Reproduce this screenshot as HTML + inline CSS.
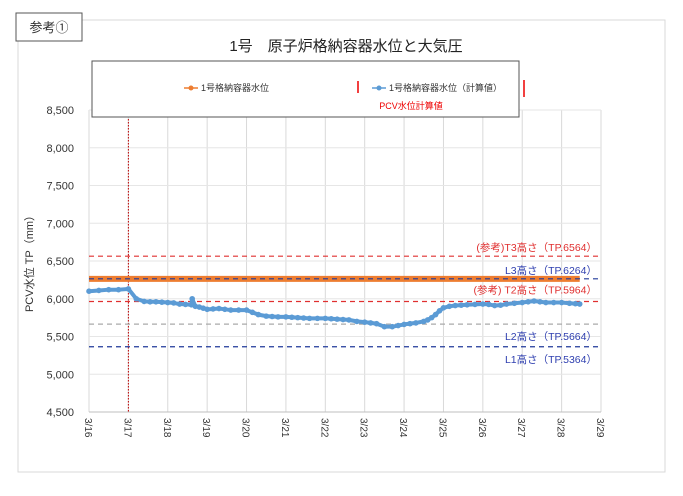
<!DOCTYPE html>
<html><head><meta charset="utf-8">
<style>
body{margin:0;background:#fff;font-family:"Liberation Sans","Noto Sans CJK JP",sans-serif;}
svg text{font-family:"Liberation Sans","Noto Sans CJK JP",sans-serif;}
</style></head>
<body>
<svg id="chart" width="683" height="491" viewBox="0 0 683 491" xmlns="http://www.w3.org/2000/svg">
<rect x="18" y="20" width="647" height="452" fill="#fff" stroke="#d9d9d9"/>
<rect x="16" y="13" width="66" height="28" fill="#fff" stroke="#555"/>
<text x="49" y="32" font-size="13" text-anchor="middle" fill="#333">参考①</text>
<text x="346" y="51" font-size="15" text-anchor="middle" fill="#222">1号　原子炉格納容器水位と大気圧</text>
<g id="grid"></g>
<g id="refs"></g>
<g id="series"></g>
<g id="axes"></g>
<rect x="92" y="61" width="427" height="56" fill="#fff" stroke="#555"/>
<g>
<line x1="184" y1="88" x2="198" y2="88" stroke="#ed7d31" stroke-width="1.5"/><circle cx="191" cy="88" r="2.5" fill="#ed7d31"/>
<text x="201" y="91" font-size="9" fill="#333">1号格納容器水位</text></g>
<line x1="358" y1="81" x2="358" y2="93" stroke="#e00" stroke-width="1.5"/>
<g>
<line x1="372" y1="88" x2="386" y2="88" stroke="#5b9bd5" stroke-width="1.5"/><circle cx="379" cy="88" r="2.5" fill="#5b9bd5"/>
<text x="389" y="91" font-size="9" fill="#333">1号格納容器水位（計算値）</text></g>
<line x1="524" y1="80" x2="524" y2="97" stroke="#e00" stroke-width="1.5"/>
<text x="411" y="109" font-size="9" fill="#e00" text-anchor="middle">PCV水位計算値</text>
<text transform="translate(33,261) rotate(-90)" font-size="11" text-anchor="middle" fill="#333">PCV水位 TP（mm）</text>
</svg>
<script>
const dayLabels=["3/16","3/17","3/18","3/19","3/20","3/21","3/22","3/23","3/24","3/25","3/26","3/27","3/28","3/29"];
const yTicks=[4500,5000,5500,6000,6500,7000,7500,8000,8500];
const calcDays=[0,0.25,0.5,0.75,1,1.2,1.4,1.55,1.7,1.85,2,2.15,2.3,2.45,2.6,2.62,2.7,2.8,2.9,3,3.15,3.3,3.45,3.6,3.8,4,4.15,4.3,4.5,4.65,4.8,5,5.15,5.3,5.45,5.6,5.8,6,6.15,6.3,6.45,6.6,6.8,7,7.15,7.3,7.5,7.7,7.85,8,8.15,8.3,8.5,8.6,8.7,8.8,8.9,9,9.15,9.3,9.45,9.6,9.8,10,10.15,10.3,10.45,10.6,10.8,11,11.15,11.3,11.45,11.6,11.8,12,12.2,12.35,12.46];
const calcVals=[6100,6110,6120,6120,6130,6000,5965,5960,5960,5955,5950,5945,5930,5925,5920,6000,5900,5890,5875,5860,5865,5870,5860,5850,5850,5850,5820,5790,5770,5765,5760,5760,5755,5750,5745,5740,5740,5740,5735,5730,5725,5720,5700,5690,5680,5670,5630,5630,5645,5660,5670,5680,5700,5720,5750,5790,5840,5880,5900,5910,5915,5920,5925,5930,5925,5910,5915,5930,5940,5950,5960,5970,5960,5950,5950,5950,5940,5935,5930];
const measDays=[0,12.46];
const measVals=[6264,6264];
const refVals=[6564,6264,5964,5664,5364];
const refNames=["(参考)T3高さ（TP.6564）","L3高さ（TP.6264）","(参考) T2高さ（TP.5964）","L2高さ（TP.5664）","L1高さ（TP.5364）"];
const refColors=["#e03030","#203a9a","#e03030","#aaaaaa","#203a9a"];
const labelColors=["#e03030","#3040b0","#e03030","#3040b0","#3040b0"];
const x0=89,x1=601,y0=412,y1=110;
const X=d=>x0+d*(x1-x0)/13;
const Y=v=>y0-(v-4500)*(y0-y1)/4000;
const NS="http://www.w3.org/2000/svg";
function mk(tag,attrs,parent){const e=document.createElementNS(NS,tag);for(const k in attrs)e.setAttribute(k,attrs[k]);parent.appendChild(e);return e;}
const grid=document.getElementById('grid'),axes=document.getElementById('axes'),refs=document.getElementById('refs'),series=document.getElementById('series');
dayLabels.forEach((l,i)=>{
 const g=mk('line',{x1:X(i),x2:X(i),y1:y1,y2:y0,stroke:'#d9d9d9','stroke-width':1},grid);
 
 
 const t=mk('text',{transform:`translate(${X(i)-4},${y0+6}) rotate(90)`,'font-size':10,fill:'#333'},axes);
 t.textContent=l;
 
 
});
yTicks.forEach(v=>{
 const g=mk('line',{x1:x0,x2:x1,y1:Y(v),y2:Y(v),stroke:'#e6e6e6','stroke-width':1},grid);
 
 
 const t=mk('text',{x:74,y:Y(v)+4,'font-size':11,fill:'#333','text-anchor':'end'},axes);
 t.textContent=v.toLocaleString('en-US');
 
 
});
const ax=mk('line',{x1:x0,x2:x1,y1:y0,y2:y0,stroke:'#bfbfbf'},axes);


const vl=mk('line',{x1:X(1),x2:X(1),y1:y1,y2:y0,stroke:'#c00000','stroke-width':1,'stroke-dasharray':'1.5 1.5'},refs);


const mp=mk('polyline',{points:measDays.map((d,i)=>X(d)+','+Y(measVals[i])).join(' '),fill:'none',stroke:'#ed7d31','stroke-width':6},series);


refVals.forEach((v,i)=>{
 const l=mk('line',{x1:x0,x2:x1,y1:Y(v),y2:Y(v),stroke:refColors[i],'stroke-width':1.2,'stroke-dasharray':'5 4'},refs);
 
 
 if(i==1)refs.parentNode.appendChild(l);
 const t=mk('text',{x:597,y:Y(v)-5,'font-size':10.5,fill:labelColors[i],'text-anchor':'end'},refs);
 if(i==3||i==4)t.setAttribute('y',Y(v)+16);
 if(i==2)t.setAttribute('y',Y(v)-8);
 t.textContent=refNames[i];
 
 
});
const cp=mk('polyline',{points:calcDays.map((d,i)=>X(d)+','+Y(calcVals[i])).join(' '),fill:'none',stroke:'#5b9bd5','stroke-width':4,'stroke-linejoin':'round'},series);


calcDays.forEach((d,i)=>{
 const c=mk('circle',{cx:X(d),cy:Y(calcVals[i]),r:2.8,fill:'#5b9bd5'},series);
 
 
});
</script>
</body></html>
